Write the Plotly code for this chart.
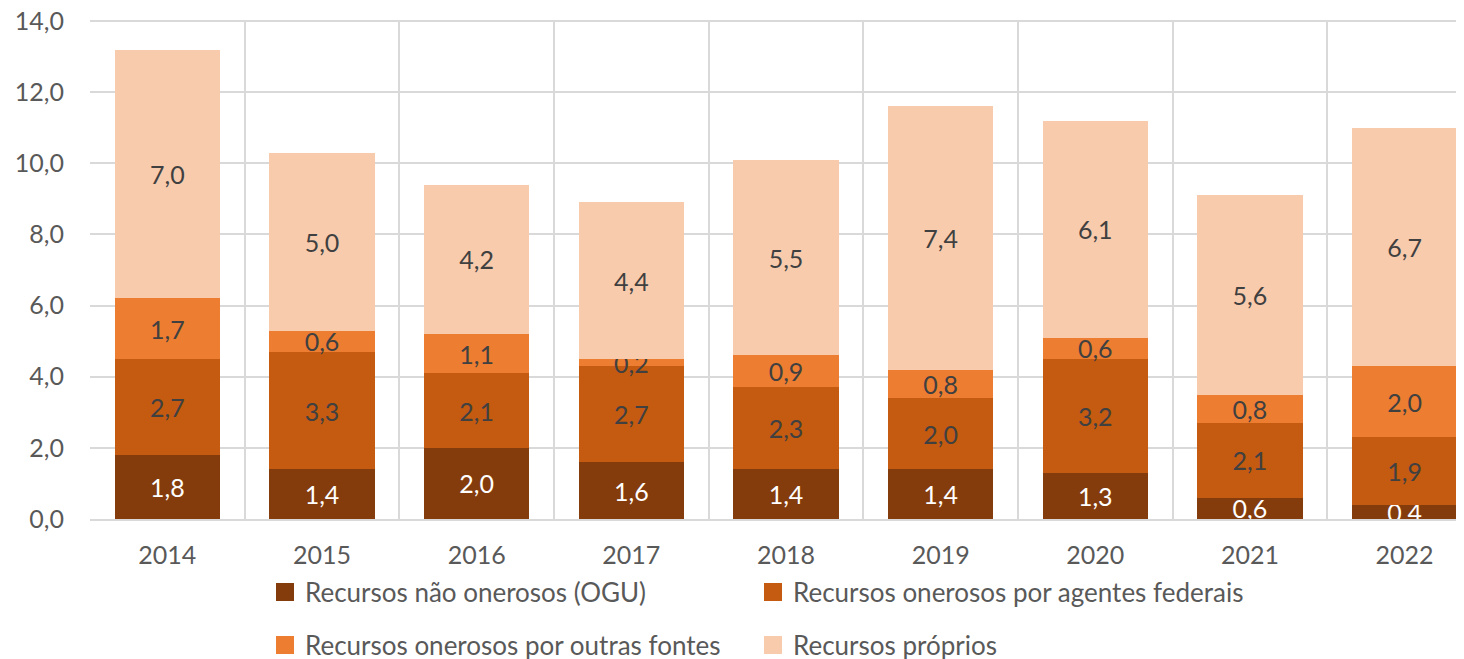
import plotly.graph_objects as go

years = ["2014", "2015", "2016", "2017", "2018", "2019", "2020", "2021", "2022"]

ogu = [1.8, 1.4, 2.0, 1.6, 1.4, 1.4, 1.3, 0.6, 0.4]
agentes_federais = [2.7, 3.3, 2.1, 2.7, 2.3, 2.0, 3.2, 2.1, 1.9]
outras_fontes = [1.7, 0.6, 1.1, 0.2, 0.9, 0.8, 0.6, 0.8, 2.0]
proprios = [7.0, 5.0, 4.2, 4.4, 5.5, 7.4, 6.1, 5.6, 6.7]

y_ticks = [0, 2, 4, 6, 8, 10, 12, 14]
y_tick_labels = ["0,0", "2,0", "4,0", "6,0", "8,0", "10,0", "12,0", "14,0"]

FONT = "Lato"
series = [
    ("Recursos não onerosos (OGU)", ogu, "#843C0C", "#FFFFFF", "legend"),
    ("Recursos onerosos por agentes federais", agentes_federais, "#C55A11", "#404040", "legend2"),
    ("Recursos onerosos por outras fontes", outras_fontes, "#ED7D31", "#404040", "legend3"),
    ("Recursos próprios", proprios, "#F8CBAD", "#404040", "legend4"),
]

fig = go.Figure()
for name, vals, color, txt_color, leg in series:
    fig.add_trace(go.Bar(
        x=years, y=vals, name=name, showlegend=False,
        marker=dict(color=color, line=dict(width=0)),
        text=[f"{v:.1f}".replace(".", ",") for v in vals],
        textposition="inside", insidetextanchor="middle",
        textangle=0, constraintext="none", cliponaxis=False,
        textfont=dict(family=FONT, size=25, color=txt_color),
    ))
    # legend-only entry with a bigger square swatch
    fig.add_trace(go.Scatter(
        x=[None], y=[None], mode="markers", name=name, legend=leg,
        showlegend=True,
        marker=dict(symbol="square", size=16, color=color,
                    line=dict(color=color, width=2)),
    ))

# the page body adds an 8 px offset; plot area on screen: x 90..1464, y 20..519
OFF = 8
W, H = 1464, 659
L, R, T = 90 - OFF, OFF, 20 - OFF
B = H - (519 - OFF)
pw = W - L - R
ph = H - T - B


def px_x(p):
    return (p - OFF - L) / pw


def px_y(p):
    return (H - B - (p - OFF)) / ph


leg_common = dict(orientation="h", xanchor="left", yanchor="middle",
                  font=dict(family=FONT, size=26, color="#595959"),
                  bgcolor="rgba(0,0,0,0)", itemclick=False)
fig.update_layout(
    showlegend=True,
    legend=dict(x=px_x(265), y=px_y(592), **leg_common),
    legend2=dict(x=px_x(753), y=px_y(592), **leg_common),
    legend3=dict(x=px_x(265), y=px_y(645), **leg_common),
    legend4=dict(x=px_x(753), y=px_y(645), **leg_common),
)

fig.update_layout(
    width=W, height=H,
    margin=dict(l=L, r=R, t=T, b=B, pad=0, autoexpand=False),
    barmode="stack", bargap=0.32,
    plot_bgcolor="white", paper_bgcolor="white",
    font=dict(family=FONT, size=25, color="#595959"),
    xaxis=dict(
        type="category", range=[-0.5, 8.384], tickson="boundaries",
        showgrid=True, gridcolor="#D9D9D9", gridwidth=2,
        showline=True, linecolor="#D9D9D9", linewidth=2,
        ticks="", ticklabelstandoff=13, automargin=False,
        tickfont=dict(family=FONT, size=25, color="#595959"),
    ),
    yaxis=dict(
        range=[0, 14.03], tickvals=y_ticks, ticktext=y_tick_labels,
        showgrid=True, gridcolor="#D9D9D9", gridwidth=2,
        zeroline=False, showline=False, ticks="", ticklabelstandoff=25,
        automargin=False, ticklabeloverflow="allow",
        tickfont=dict(family=FONT, size=25, color="#595959"),
    ),
)

fig.write_html("out.html")
